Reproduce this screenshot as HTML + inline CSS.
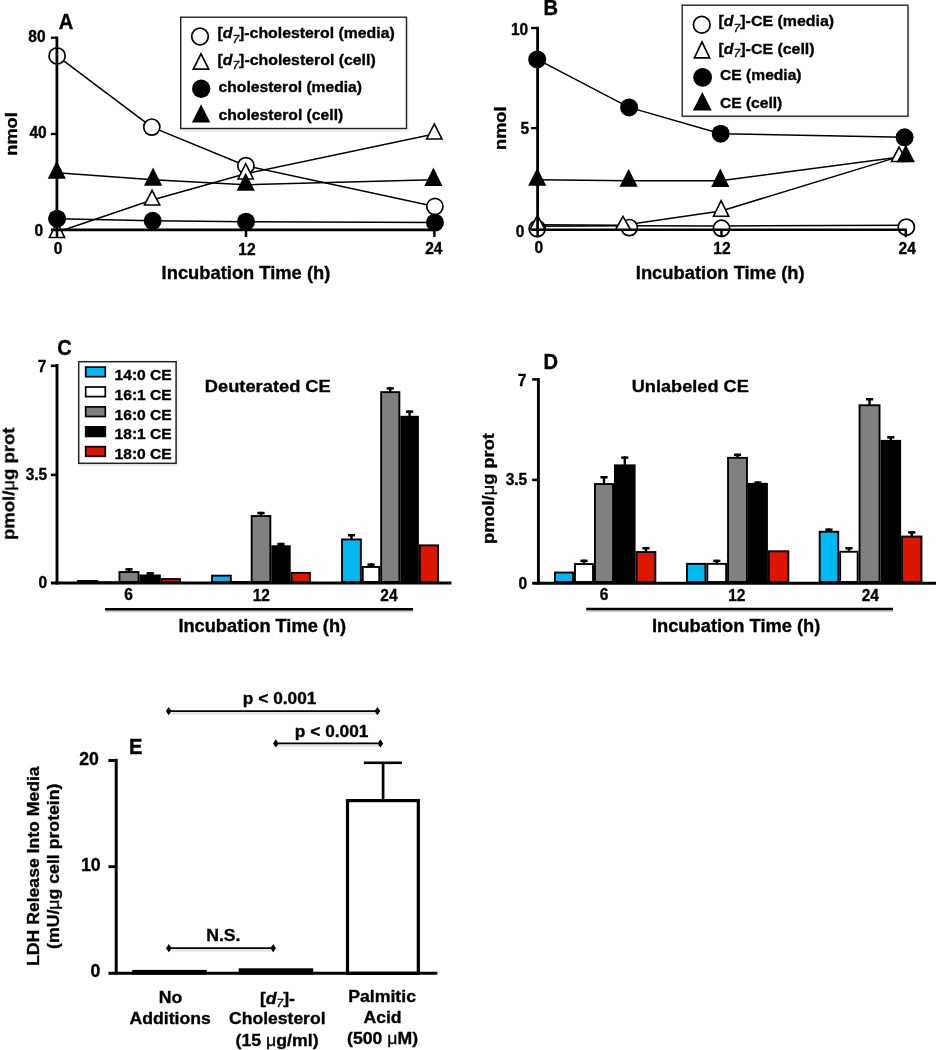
<!DOCTYPE html>
<html><head><meta charset="utf-8"><style>
html,body{margin:0;padding:0;background:#fff;}
svg{display:block;will-change:transform;}
text{font-family:"Liberation Sans", sans-serif;fill:#000;stroke:#000;stroke-width:0.35px;}
</style></head><body>
<svg width="937" height="1050" viewBox="0 0 937 1050">
<defs><filter id="sb" x="0" y="0" width="100%" height="100%" filterUnits="userSpaceOnUse"><feGaussianBlur stdDeviation="0.35"/></filter></defs>
<rect width="937" height="1050" fill="#fff"/>
<g filter="url(#sb)">
<rect width="937" height="1050" fill="#fff"/>
<rect x="181.0" y="128.8" width="227.5" height="2.8" fill="#eeeeee"/>
<rect x="407.0" y="19.0" width="1.8" height="112" fill="#f2f2f2"/>
<rect x="180.7" y="17.2" width="225.8" height="111.3" fill="#fff" stroke="#222" stroke-width="1.4"/>
<circle cx="200.0" cy="36.5" r="8.3" fill="#fff" stroke="#000" stroke-width="1.7"/>
<polygon points="201.00,53.88 208.72,69.15 193.28,69.15" fill="#fff" stroke="#000" stroke-width="1.7" stroke-linejoin="miter" stroke-miterlimit="10"/>
<circle cx="201.2" cy="88.8" r="9.2" fill="#000"/>
<polygon points="201.10,104.30 210.30,122.50 191.90,122.50" fill="#000"/>
<polyline points="57.1,55.9 151.8,127.1 245.9,165.7 434.9,206.5" fill="none" stroke="#000" stroke-width="1.5" stroke-linejoin="round"/>
<polyline points="57.0,232.33333333333334 152.1,200.06666666666666 245.7,173.83333333333334 434.3,133.93333333333334" fill="none" stroke="#000" stroke-width="1.5" stroke-linejoin="round"/>
<polyline points="57.1,218.7 152.7,220.8 246.0,221.7 434.9,222.6" fill="none" stroke="#000" stroke-width="1.5" stroke-linejoin="round"/>
<polyline points="56.8,172.8 153.1,179.73333333333335 245.7,184.7 433.4,179.8" fill="none" stroke="#000" stroke-width="1.5" stroke-linejoin="round"/>
<circle cx="57.1" cy="55.9" r="8.1" fill="#fff" stroke="#000" stroke-width="1.7"/>
<circle cx="151.8" cy="127.1" r="8.1" fill="#fff" stroke="#000" stroke-width="1.7"/>
<circle cx="245.9" cy="165.7" r="8.1" fill="#fff" stroke="#000" stroke-width="1.7"/>
<circle cx="434.9" cy="206.5" r="8.1" fill="#fff" stroke="#000" stroke-width="1.7"/>
<polygon points="57.00,222.20 64.61,237.50 49.39,237.50" fill="#fff" stroke="#000" stroke-width="1.6" stroke-linejoin="miter" stroke-miterlimit="10"/>
<polygon points="152.10,190.34 159.69,205.00 144.51,205.00" fill="#fff" stroke="#000" stroke-width="1.6" stroke-linejoin="miter" stroke-miterlimit="10"/>
<polygon points="245.70,163.70 253.31,179.00 238.09,179.00" fill="#fff" stroke="#000" stroke-width="1.6" stroke-linejoin="miter" stroke-miterlimit="10"/>
<polygon points="434.30,123.97 441.90,139.00 426.70,139.00" fill="#fff" stroke="#000" stroke-width="1.6" stroke-linejoin="miter" stroke-miterlimit="10"/>
<circle cx="57.1" cy="218.7" r="9.0" fill="#000"/>
<circle cx="152.7" cy="220.8" r="9.0" fill="#000"/>
<circle cx="246.0" cy="221.7" r="9.0" fill="#000"/>
<circle cx="434.9" cy="222.6" r="9.0" fill="#000"/>
<polygon points="56.80,160.80 65.90,178.80 47.70,178.80" fill="#000"/>
<polygon points="153.10,167.60 162.20,185.80 144.00,185.80" fill="#000"/>
<polygon points="245.70,172.70 254.80,190.70 236.60,190.70" fill="#000"/>
<polygon points="433.40,167.60 442.50,185.90 424.30,185.90" fill="#000"/>
<line x1="56.9" y1="36.6" x2="56.9" y2="231.3" stroke="#000" stroke-width="2.8" stroke-linecap="butt"/>
<line x1="50.9" y1="229.9" x2="435.7" y2="229.9" stroke="#000" stroke-width="2.6" stroke-linecap="butt"/>
<line x1="50.9" y1="37.7" x2="57" y2="37.7" stroke="#000" stroke-width="2.3" stroke-linecap="butt"/>
<line x1="50.9" y1="134.0" x2="57" y2="134.0" stroke="#000" stroke-width="2.3" stroke-linecap="butt"/>
<line x1="57.0" y1="229.9" x2="57.0" y2="237.0" stroke="#000" stroke-width="2.5" stroke-linecap="butt"/>
<line x1="246.0" y1="229.9" x2="246.0" y2="237.0" stroke="#000" stroke-width="2.5" stroke-linecap="butt"/>
<line x1="434.4" y1="229.9" x2="434.4" y2="237.0" stroke="#000" stroke-width="2.5" stroke-linecap="butt"/>
<rect x="682.5" y="116.5" width="227.5" height="2.8" fill="#eeeeee"/>
<rect x="908.5" y="7.0" width="1.8" height="112" fill="#f2f2f2"/>
<rect x="682.2" y="5.2" width="225.8" height="111" fill="#fff" stroke="#222" stroke-width="1.4"/>
<circle cx="701.75" cy="24.75" r="8.35" fill="#fff" stroke="#000" stroke-width="1.7"/>
<polygon points="702.00,41.97 709.65,57.95 694.35,57.95" fill="#fff" stroke="#000" stroke-width="1.7" stroke-linejoin="miter" stroke-miterlimit="10"/>
<circle cx="702.6" cy="77.3" r="9.4" fill="#000"/>
<polygon points="702.30,92.00 711.70,110.50 692.90,110.50" fill="#000"/>
<polyline points="537.2,226.2 629.3,225.8 721.5,225.9 906.3,225.3" fill="none" stroke="#000" stroke-width="1.5" stroke-linejoin="round"/>
<polyline points="537.5,224.73333333333335 623.0,225.29999999999998 721.1,210.96666666666667 899.1,156.63333333333335" fill="none" stroke="#000" stroke-width="1.5" stroke-linejoin="round"/>
<polyline points="537.2,59.4 629.1,107.4 720.7,133.7 904.6,137.3" fill="none" stroke="#000" stroke-width="1.5" stroke-linejoin="round"/>
<polyline points="537.2,179.86666666666667 628.6,180.83333333333334 720.3,180.8 905.8,156.36666666666667" fill="none" stroke="#000" stroke-width="1.5" stroke-linejoin="round"/>
<circle cx="537.2" cy="228.6" r="8.1" fill="#fff" stroke="#000" stroke-width="1.7"/>
<circle cx="629.3" cy="227.6" r="8.1" fill="#fff" stroke="#000" stroke-width="1.7"/>
<circle cx="721.5" cy="228.3" r="8.1" fill="#fff" stroke="#000" stroke-width="1.7"/>
<circle cx="906.3" cy="227.2" r="8.1" fill="#fff" stroke="#000" stroke-width="1.7"/>
<polygon points="537.50,215.30 545.07,229.50 529.93,229.50" fill="#fff" stroke="#000" stroke-width="1.6" stroke-linejoin="miter" stroke-miterlimit="10"/>
<polygon points="623.00,216.34 630.54,229.80 615.46,229.80" fill="#fff" stroke="#000" stroke-width="1.6" stroke-linejoin="miter" stroke-miterlimit="10"/>
<polygon points="721.10,200.71 728.72,216.20 713.48,216.20" fill="#fff" stroke="#000" stroke-width="1.6" stroke-linejoin="miter" stroke-miterlimit="10"/>
<polygon points="899.10,147.02 906.68,161.50 891.52,161.50" fill="#fff" stroke="#000" stroke-width="1.6" stroke-linejoin="miter" stroke-miterlimit="10"/>
<circle cx="537.2" cy="59.4" r="9.0" fill="#000"/>
<circle cx="629.1" cy="107.4" r="9.0" fill="#000"/>
<circle cx="720.7" cy="133.7" r="9.0" fill="#000"/>
<circle cx="904.6" cy="137.3" r="9.0" fill="#000"/>
<polygon points="537.20,168.00 546.30,185.80 528.10,185.80" fill="#000"/>
<polygon points="628.60,168.90 637.70,186.80 619.50,186.80" fill="#000"/>
<polygon points="720.30,168.60 729.40,186.90 711.20,186.90" fill="#000"/>
<polygon points="905.80,144.50 914.90,162.30 896.70,162.30" fill="#000"/>
<line x1="537.6" y1="26.8" x2="537.6" y2="231.2" stroke="#000" stroke-width="2.8" stroke-linecap="butt"/>
<line x1="531.1" y1="229.8" x2="907.0" y2="229.8" stroke="#000" stroke-width="2.6" stroke-linecap="butt"/>
<line x1="531.1" y1="28.0" x2="537.6" y2="28.0" stroke="#000" stroke-width="2.3" stroke-linecap="butt"/>
<line x1="531.1" y1="128.1" x2="537.6" y2="128.1" stroke="#000" stroke-width="2.3" stroke-linecap="butt"/>
<line x1="537.6" y1="229.8" x2="537.6" y2="237.2" stroke="#000" stroke-width="2.5" stroke-linecap="butt"/>
<line x1="721.5" y1="229.8" x2="721.5" y2="237.2" stroke="#000" stroke-width="2.5" stroke-linecap="butt"/>
<line x1="905.8" y1="229.8" x2="905.8" y2="237.2" stroke="#000" stroke-width="2.5" stroke-linecap="butt"/>
<rect x="77.95" y="580.95" width="19.30" height="1.05" fill="#00b9f4" stroke="#000" stroke-width="1.9"/>
<rect x="99.15" y="582.25" width="18.40" height="0.30" fill="#ffffff" stroke="#000" stroke-width="1.9"/>
<rect x="127.80" y="568.10" width="2.4" height="4.00" fill="#000"/>
<rect x="125.40" y="568.10" width="7.2" height="2.5" fill="#000"/>
<rect x="119.45" y="572.05" width="19.10" height="9.95" fill="#808080" stroke="#000" stroke-width="1.9"/>
<rect x="148.95" y="572.00" width="2.4" height="3.50" fill="#000"/>
<rect x="146.55" y="572.00" width="7.2" height="3.3" fill="#000"/>
<rect x="140.45" y="575.45" width="19.40" height="6.55" fill="#000000" stroke="#000" stroke-width="1.9"/>
<rect x="161.75" y="579.05" width="18.20" height="2.95" fill="#dc1200" stroke="#000" stroke-width="1.9"/>
<rect x="212.05" y="575.65" width="18.80" height="6.35" fill="#00b9f4" stroke="#000" stroke-width="1.9"/>
<rect x="232.75" y="581.95" width="17.00" height="0.30" fill="#ffffff" stroke="#000" stroke-width="1.9"/>
<rect x="259.80" y="511.80" width="2.4" height="4.30" fill="#000"/>
<rect x="257.40" y="511.80" width="7.2" height="2.5" fill="#000"/>
<rect x="251.65" y="516.05" width="18.70" height="65.95" fill="#808080" stroke="#000" stroke-width="1.9"/>
<rect x="279.80" y="542.80" width="2.4" height="3.50" fill="#000"/>
<rect x="277.40" y="542.80" width="7.2" height="3.3" fill="#000"/>
<rect x="272.25" y="546.25" width="17.50" height="35.75" fill="#000000" stroke="#000" stroke-width="1.9"/>
<rect x="291.65" y="572.85" width="18.20" height="9.15" fill="#dc1200" stroke="#000" stroke-width="1.9"/>
<rect x="350.25" y="534.00" width="2.4" height="5.50" fill="#000"/>
<rect x="347.85" y="534.00" width="7.2" height="2.5" fill="#000"/>
<rect x="342.05" y="539.45" width="18.80" height="42.55" fill="#00b9f4" stroke="#000" stroke-width="1.9"/>
<rect x="369.80" y="563.40" width="2.4" height="3.60" fill="#000"/>
<rect x="367.40" y="563.40" width="7.2" height="2.5" fill="#000"/>
<rect x="362.75" y="566.95" width="16.50" height="15.05" fill="#ffffff" stroke="#000" stroke-width="1.9"/>
<rect x="389.05" y="387.20" width="2.4" height="5.00" fill="#000"/>
<rect x="386.65" y="387.20" width="7.2" height="2.5" fill="#000"/>
<rect x="381.15" y="392.15" width="18.20" height="189.85" fill="#808080" stroke="#000" stroke-width="1.9"/>
<rect x="408.40" y="410.40" width="2.4" height="6.40" fill="#000"/>
<rect x="406.00" y="410.40" width="7.2" height="2.5" fill="#000"/>
<rect x="401.25" y="416.75" width="16.70" height="165.25" fill="#000000" stroke="#000" stroke-width="1.9"/>
<rect x="419.85" y="545.35" width="18.10" height="36.65" fill="#dc1200" stroke="#000" stroke-width="1.9"/>
<line x1="57.0" y1="364.0" x2="57.0" y2="584.5" stroke="#000" stroke-width="2.9" stroke-linecap="butt"/>
<line x1="50.9" y1="583.0" x2="451.5" y2="583.0" stroke="#000" stroke-width="2.9" stroke-linecap="butt"/>
<line x1="50.9" y1="365.8" x2="57" y2="365.8" stroke="#000" stroke-width="2.6" stroke-linecap="butt"/>
<line x1="50.9" y1="474.9" x2="57" y2="474.9" stroke="#000" stroke-width="2.6" stroke-linecap="butt"/>
<line x1="105.5" y1="611.2" x2="413.3" y2="611.2" stroke="#d0d0d0" stroke-width="2.4"/>
<line x1="105.1" y1="609.2" x2="413.1" y2="609.2" stroke="#000" stroke-width="2.6" stroke-linecap="butt"/>
<rect x="79.0" y="463.5" width="99" height="2.8" fill="#eeeeee"/>
<rect x="176.6" y="363.5" width="1.8" height="102" fill="#f2f2f2"/>
<rect x="78.7" y="361.7" width="97.4" height="101.6" fill="#fff" stroke="#222" stroke-width="1.5"/>
<rect x="85.7" y="367.10" width="19.6" height="9.6" fill="#00b9f4" stroke="#000" stroke-width="1.7"/>
<rect x="85.7" y="387.00" width="19.6" height="9.6" fill="#ffffff" stroke="#000" stroke-width="1.7"/>
<rect x="85.7" y="406.90" width="19.6" height="9.6" fill="#808080" stroke="#000" stroke-width="1.7"/>
<rect x="85.7" y="426.80" width="19.6" height="9.6" fill="#000000" stroke="#000" stroke-width="1.7"/>
<rect x="85.7" y="446.70" width="19.6" height="9.6" fill="#dc1200" stroke="#000" stroke-width="1.7"/>
<rect x="554.95" y="572.55" width="18.10" height="9.45" fill="#00b9f4" stroke="#000" stroke-width="1.9"/>
<rect x="582.80" y="559.60" width="2.4" height="4.50" fill="#000"/>
<rect x="580.40" y="559.60" width="7.2" height="2.5" fill="#000"/>
<rect x="574.95" y="564.05" width="18.10" height="17.95" fill="#ffffff" stroke="#000" stroke-width="1.9"/>
<rect x="602.80" y="476.00" width="2.4" height="8.10" fill="#000"/>
<rect x="600.40" y="476.00" width="7.2" height="2.5" fill="#000"/>
<rect x="594.95" y="484.05" width="18.10" height="97.95" fill="#808080" stroke="#000" stroke-width="1.9"/>
<rect x="623.60" y="456.40" width="2.4" height="9.00" fill="#000"/>
<rect x="621.20" y="456.40" width="7.2" height="2.5" fill="#000"/>
<rect x="614.95" y="465.35" width="19.70" height="116.65" fill="#000000" stroke="#000" stroke-width="1.9"/>
<rect x="644.75" y="547.00" width="2.4" height="5.10" fill="#000"/>
<rect x="642.35" y="547.00" width="7.2" height="2.5" fill="#000"/>
<rect x="636.55" y="552.05" width="18.80" height="29.95" fill="#dc1200" stroke="#000" stroke-width="1.9"/>
<rect x="686.95" y="563.85" width="18.50" height="18.15" fill="#00b9f4" stroke="#000" stroke-width="1.9"/>
<rect x="715.55" y="559.70" width="2.4" height="4.20" fill="#000"/>
<rect x="713.15" y="559.70" width="7.2" height="2.5" fill="#000"/>
<rect x="707.35" y="563.85" width="18.80" height="18.15" fill="#ffffff" stroke="#000" stroke-width="1.9"/>
<rect x="736.30" y="453.60" width="2.4" height="4.30" fill="#000"/>
<rect x="733.90" y="453.60" width="7.2" height="2.5" fill="#000"/>
<rect x="728.05" y="457.85" width="18.90" height="124.15" fill="#808080" stroke="#000" stroke-width="1.9"/>
<rect x="756.70" y="481.40" width="2.4" height="2.50" fill="#000"/>
<rect x="754.30" y="481.40" width="7.2" height="2.3" fill="#000"/>
<rect x="748.85" y="483.85" width="18.10" height="98.15" fill="#000000" stroke="#000" stroke-width="1.9"/>
<rect x="768.85" y="551.25" width="19.50" height="30.75" fill="#dc1200" stroke="#000" stroke-width="1.9"/>
<rect x="827.75" y="528.40" width="2.4" height="3.40" fill="#000"/>
<rect x="825.35" y="528.40" width="7.2" height="2.5" fill="#000"/>
<rect x="819.65" y="531.75" width="18.60" height="50.25" fill="#00b9f4" stroke="#000" stroke-width="1.9"/>
<rect x="847.70" y="547.00" width="2.4" height="4.80" fill="#000"/>
<rect x="845.30" y="547.00" width="7.2" height="2.5" fill="#000"/>
<rect x="840.15" y="551.75" width="17.50" height="30.25" fill="#ffffff" stroke="#000" stroke-width="1.9"/>
<rect x="868.35" y="398.00" width="2.4" height="7.30" fill="#000"/>
<rect x="865.95" y="398.00" width="7.2" height="2.5" fill="#000"/>
<rect x="859.55" y="405.25" width="20.00" height="176.75" fill="#808080" stroke="#000" stroke-width="1.9"/>
<rect x="889.60" y="436.10" width="2.4" height="4.80" fill="#000"/>
<rect x="887.20" y="436.10" width="7.2" height="2.5" fill="#000"/>
<rect x="881.45" y="440.85" width="18.70" height="141.15" fill="#000000" stroke="#000" stroke-width="1.9"/>
<rect x="910.55" y="531.20" width="2.4" height="5.40" fill="#000"/>
<rect x="908.15" y="531.20" width="7.2" height="2.5" fill="#000"/>
<rect x="902.05" y="536.55" width="19.40" height="45.45" fill="#dc1200" stroke="#000" stroke-width="1.9"/>
<line x1="538.4" y1="378.0" x2="538.4" y2="584.5" stroke="#000" stroke-width="2.9" stroke-linecap="butt"/>
<line x1="532.2" y1="583.2" x2="936" y2="583.2" stroke="#000" stroke-width="2.9" stroke-linecap="butt"/>
<line x1="532.2" y1="379.4" x2="538.4" y2="379.4" stroke="#000" stroke-width="2.6" stroke-linecap="butt"/>
<line x1="532.2" y1="479.9" x2="538.4" y2="479.9" stroke="#000" stroke-width="2.6" stroke-linecap="butt"/>
<line x1="586.6" y1="611.0" x2="893.3" y2="611.0" stroke="#d0d0d0" stroke-width="2.4"/>
<line x1="586.2" y1="609.0" x2="893.0" y2="609.0" stroke="#000" stroke-width="2.6" stroke-linecap="butt"/>
<rect x="132.2" y="969.9" width="74.5" height="4.8" fill="#000"/>
<rect x="238.7" y="968.3" width="74.5" height="6.4" fill="#000"/>
<rect x="381.75" y="762.8" width="2.7" height="39" fill="#000"/>
<rect x="363.8" y="761.5" width="38.1" height="2.6" fill="#000"/>
<rect x="347.5" y="800.6" width="70.8" height="172.7" fill="#fff" stroke="#000" stroke-width="3.2"/>
<line x1="116.2" y1="758.8" x2="116.2" y2="974.7" stroke="#000" stroke-width="3.0" stroke-linecap="butt"/>
<line x1="108.4" y1="973.25" x2="437.4" y2="973.25" stroke="#000" stroke-width="2.9" stroke-linecap="butt"/>
<line x1="108.4" y1="760.5" x2="116" y2="760.5" stroke="#000" stroke-width="2.9" stroke-linecap="butt"/>
<line x1="108.4" y1="866.7" x2="116" y2="866.7" stroke="#000" stroke-width="2.9" stroke-linecap="butt"/>
<line x1="168.7" y1="713.3000000000001" x2="377.4" y2="713.3000000000001" stroke="#e2e2e2" stroke-width="2.2"/>
<line x1="168.7" y1="711.1" x2="377.4" y2="711.1" stroke="#000" stroke-width="1.8" stroke-linecap="butt"/>
<polygon points="165.90,711.10 168.70,707.00 171.50,711.10 168.70,715.20" fill="#000"/>
<polygon points="374.60,711.10 377.40,707.00 380.20,711.10 377.40,715.20" fill="#000"/>
<line x1="275.8" y1="745.6" x2="380.4" y2="745.6" stroke="#e2e2e2" stroke-width="2.2"/>
<line x1="275.8" y1="743.4" x2="380.4" y2="743.4" stroke="#000" stroke-width="1.8" stroke-linecap="butt"/>
<polygon points="273.00,743.40 275.80,739.30 278.60,743.40 275.80,747.50" fill="#000"/>
<polygon points="377.60,743.40 380.40,739.30 383.20,743.40 380.40,747.50" fill="#000"/>
<line x1="168.8" y1="950.4000000000001" x2="273.2" y2="950.4000000000001" stroke="#e2e2e2" stroke-width="2.2"/>
<line x1="168.8" y1="948.2" x2="273.2" y2="948.2" stroke="#000" stroke-width="1.8" stroke-linecap="butt"/>
<polygon points="166.00,948.20 168.80,944.10 171.60,948.20 168.80,952.30" fill="#000"/>
<polygon points="270.40,948.20 273.20,944.10 276.00,948.20 273.20,952.30" fill="#000"/>
<text transform="matrix(1.0044 0 0 1.0628 58.84 28.56)" x="0" y="0" font-size="20" font-weight="bold">A</text>
<text transform="matrix(0.9693 0 0 0.9796 28.37 41.69)" x="0" y="0" font-size="16" font-weight="bold">80</text>
<text transform="matrix(0.9693 0 0 0.9796 29.44 137.79)" x="0" y="0" font-size="16" font-weight="bold">40</text>
<text transform="matrix(0.9693 0 0 0.9796 34.49 236.14)" x="0" y="0" font-size="16" font-weight="bold">0</text>
<text transform="matrix(0.9693 0 0 0.9796 53.79 253.74)" x="0" y="0" font-size="16" font-weight="bold">0</text>
<text transform="matrix(0.9693 0 0 0.9796 238.28 254.89)" x="0" y="0" font-size="16" font-weight="bold">12</text>
<text transform="matrix(0.9693 0 0 0.9796 425.21 254.34)" x="0" y="0" font-size="16" font-weight="bold">24</text>
<text transform="matrix(0.9962 0 0 0.9724 161.62 279.47)" x="0" y="0" font-size="18.4" font-weight="bold">Incubation Time (h)</text>
<text transform="matrix(0.9680 0 0 1.0100 16.64 155.69) rotate(-90)" x="0" y="0" font-size="18" font-weight="bold">nmol</text>
<text transform="matrix(1.0156 0 0 0.9631 217.46 37.78)" x="0" y="0" font-size="15.6" font-weight="bold">[<tspan font-style="italic">d</tspan><tspan font-style="italic" font-weight="normal" font-size="11.8" dy="5.9">7</tspan><tspan dy="-5.9">]</tspan>-cholesterol (media)</text>
<text transform="matrix(1.0175 0 0 0.9631 217.46 65.46)" x="0" y="0" font-size="15.6" font-weight="bold">[<tspan font-style="italic">d</tspan><tspan font-style="italic" font-weight="normal" font-size="11.8" dy="3.8">7</tspan><tspan dy="-3.8">]</tspan>-cholesterol (cell)</text>
<text transform="matrix(1.0032 0 0 0.9631 218.62 92.00)" x="0" y="0" font-size="15.6" font-weight="bold">cholesterol (media)</text>
<text transform="matrix(1.0066 0 0 0.9631 218.52 119.95)" x="0" y="0" font-size="15.6" font-weight="bold">cholesterol (cell)</text>
<text transform="matrix(1.0044 0 0 1.0628 543.42 15.01)" x="0" y="0" font-size="20" font-weight="bold">B</text>
<text transform="matrix(0.9693 0 0 0.9796 510.98 35.44)" x="0" y="0" font-size="16" font-weight="bold">10</text>
<text transform="matrix(0.9693 0 0 0.9796 520.51 133.84)" x="0" y="0" font-size="16" font-weight="bold">5</text>
<text transform="matrix(0.9693 0 0 0.9796 515.79 236.54)" x="0" y="0" font-size="16" font-weight="bold">0</text>
<text transform="matrix(0.9693 0 0 0.9796 534.39 253.34)" x="0" y="0" font-size="16" font-weight="bold">0</text>
<text transform="matrix(0.9693 0 0 0.9796 713.28 253.69)" x="0" y="0" font-size="16" font-weight="bold">12</text>
<text transform="matrix(0.9693 0 0 0.9796 898.61 253.54)" x="0" y="0" font-size="16" font-weight="bold">24</text>
<text transform="matrix(0.9980 0 0 0.9724 635.82 279.47)" x="0" y="0" font-size="18.4" font-weight="bold">Incubation Time (h)</text>
<text transform="matrix(0.9680 0 0 1.0100 505.84 149.89) rotate(-90)" x="0" y="0" font-size="18" font-weight="bold">nmol</text>
<text transform="matrix(1.0215 0 0 0.9631 718.56 25.98)" x="0" y="0" font-size="15.6" font-weight="bold">[<tspan font-style="italic">d</tspan><tspan font-style="italic" font-weight="normal" font-size="11.8" dy="5.9">7</tspan><tspan dy="-5.9">]</tspan>-CE (media)</text>
<text transform="matrix(1.0216 0 0 0.9631 718.56 53.61)" x="0" y="0" font-size="15.6" font-weight="bold">[<tspan font-style="italic">d</tspan><tspan font-style="italic" font-weight="normal" font-size="11.8" dy="3.8">7</tspan><tspan dy="-3.8">]</tspan>-CE (cell)</text>
<text transform="matrix(1.0001 0 0 0.9631 720.12 80.15)" x="0" y="0" font-size="15.6" font-weight="bold">CE (media)</text>
<text transform="matrix(1.0002 0 0 0.9631 719.92 107.95)" x="0" y="0" font-size="15.6" font-weight="bold">CE (cell)</text>
<text transform="matrix(1.0044 0 0 1.0628 57.19 354.76)" x="0" y="0" font-size="20" font-weight="bold">C</text>
<text transform="matrix(0.9693 0 0 0.9796 37.66 371.84)" x="0" y="0" font-size="16" font-weight="bold">7</text>
<text transform="matrix(0.9693 0 0 0.9796 25.67 480.04)" x="0" y="0" font-size="16" font-weight="bold">3.5</text>
<text transform="matrix(0.9693 0 0 0.9796 38.44 588.24)" x="0" y="0" font-size="16" font-weight="bold">0</text>
<text transform="matrix(0.9693 0 0 0.9796 124.34 600.24)" x="0" y="0" font-size="16" font-weight="bold">6</text>
<text transform="matrix(0.9693 0 0 0.9796 252.68 601.39)" x="0" y="0" font-size="16" font-weight="bold">12</text>
<text transform="matrix(0.9693 0 0 0.9796 380.36 601.39)" x="0" y="0" font-size="16" font-weight="bold">24</text>
<text transform="matrix(0.9908 0 0 0.9724 178.43 632.37)" x="0" y="0" font-size="18.4" font-weight="bold">Incubation Time (h)</text>
<text transform="matrix(1.0049 0 0 0.9425 204.82 391.68)" x="0" y="0" font-size="18.2" font-weight="bold">Deuterated CE</text>
<text transform="matrix(0.9062 0 0 1.0287 14.34 539.91) rotate(-90)" x="0" y="0" font-size="18" font-weight="bold">pmol/<tspan font-weight="normal">μ</tspan>g prot</text>
<text transform="matrix(1.0192 0 0 0.9786 114.56 379.54)" x="0" y="0" font-size="15.3" font-weight="bold">14:0 CE</text>
<text transform="matrix(1.0192 0 0 0.9786 114.56 399.94)" x="0" y="0" font-size="15.3" font-weight="bold">16:1 CE</text>
<text transform="matrix(1.0192 0 0 0.9786 114.56 419.59)" x="0" y="0" font-size="15.3" font-weight="bold">16:0 CE</text>
<text transform="matrix(1.0192 0 0 0.9786 114.56 439.24)" x="0" y="0" font-size="15.3" font-weight="bold">18:1 CE</text>
<text transform="matrix(1.0192 0 0 0.9786 114.56 459.34)" x="0" y="0" font-size="15.3" font-weight="bold">18:0 CE</text>
<text transform="matrix(1.0044 0 0 1.0628 543.62 368.66)" x="0" y="0" font-size="20" font-weight="bold">D</text>
<text transform="matrix(0.9693 0 0 0.9796 517.86 385.69)" x="0" y="0" font-size="16" font-weight="bold">7</text>
<text transform="matrix(0.9693 0 0 0.9796 505.67 485.29)" x="0" y="0" font-size="16" font-weight="bold">3.5</text>
<text transform="matrix(0.9693 0 0 0.9796 518.54 588.84)" x="0" y="0" font-size="16" font-weight="bold">0</text>
<text transform="matrix(0.9693 0 0 0.9796 599.74 599.59)" x="0" y="0" font-size="16" font-weight="bold">6</text>
<text transform="matrix(0.9693 0 0 0.9796 728.18 601.29)" x="0" y="0" font-size="16" font-weight="bold">12</text>
<text transform="matrix(0.9693 0 0 0.9796 861.66 600.64)" x="0" y="0" font-size="16" font-weight="bold">24</text>
<text transform="matrix(0.9956 0 0 0.9724 651.92 632.22)" x="0" y="0" font-size="18.4" font-weight="bold">Incubation Time (h)</text>
<text transform="matrix(0.9992 0 0 0.9425 631.72 391.73)" x="0" y="0" font-size="18.2" font-weight="bold">Unlabeled CE</text>
<text transform="matrix(0.9062 0 0 1.0148 494.09 543.99) rotate(-90)" x="0" y="0" font-size="18" font-weight="bold">pmol/<tspan font-weight="normal">μ</tspan>g prot</text>
<text transform="matrix(1.0044 0 0 1.0628 129.12 754.26)" x="0" y="0" font-size="20" font-weight="bold">E</text>
<text transform="matrix(0.9823 0 0 0.9743 79.23 765.29)" x="0" y="0" font-size="18" font-weight="bold">20</text>
<text transform="matrix(0.9823 0 0 0.9743 80.93 870.84)" x="0" y="0" font-size="18" font-weight="bold">10</text>
<text transform="matrix(0.9823 0 0 0.9743 90.44 977.14)" x="0" y="0" font-size="18" font-weight="bold">0</text>
<text transform="matrix(0.9899 0 0 0.9743 242.83 703.84)" x="0" y="0" font-size="17.5" font-weight="bold">p &lt; 0.001</text>
<text transform="matrix(0.9899 0 0 0.9743 294.83 737.34)" x="0" y="0" font-size="17.5" font-weight="bold">p &lt; 0.001</text>
<text transform="matrix(1.0089 0 0 0.9743 206.20 941.25)" x="0" y="0" font-size="17.5" font-weight="bold">N.S.</text>
<text transform="matrix(1.0089 0 0 0.9743 158.67 1003.30)" x="0" y="0" font-size="17.5" font-weight="bold">No</text>
<text transform="matrix(1.0089 0 0 0.9743 129.47 1024.34)" x="0" y="0" font-size="17.5" font-weight="bold">Additions</text>
<text transform="matrix(1.0089 0 0 0.9743 259.89 1003.98)" x="0" y="0" font-size="17.5" font-weight="bold">[<tspan font-style="italic">d</tspan><tspan font-style="italic" font-weight="normal" font-size="11.8" dy="3.5">7</tspan><tspan dy="-3.5">]</tspan>-</text>
<text transform="matrix(1.0022 0 0 0.9743 229.12 1024.44)" x="0" y="0" font-size="17.5" font-weight="bold">Cholesterol</text>
<text transform="matrix(1.0131 0 0 0.9743 235.56 1046.18)" x="0" y="0" font-size="17.5" font-weight="bold">(15 <tspan font-weight="normal">μ</tspan>g/ml)</text>
<text transform="matrix(1.0108 0 0 0.9743 348.21 1002.29)" x="0" y="0" font-size="17.5" font-weight="bold">Palmitic</text>
<text transform="matrix(1.0089 0 0 0.9743 363.41 1023.19)" x="0" y="0" font-size="17.5" font-weight="bold">Acid</text>
<text transform="matrix(1.0095 0 0 0.9743 347.06 1043.83)" x="0" y="0" font-size="17.5" font-weight="bold">(500 <tspan font-weight="normal">μ</tspan>M)</text>
<text transform="matrix(0.9641 0 0 0.9950 38.60 965.88) rotate(-90)" x="0" y="0" font-size="17.7" font-weight="bold">LDH Release Into Media</text>
<text transform="matrix(0.9641 0 0 1.0004 58.89 948.93) rotate(-90)" x="0" y="0" font-size="17.7" font-weight="bold">(mU/<tspan font-weight="normal">μ</tspan>g cell protein)</text>
</g>
</svg>
</body></html>
